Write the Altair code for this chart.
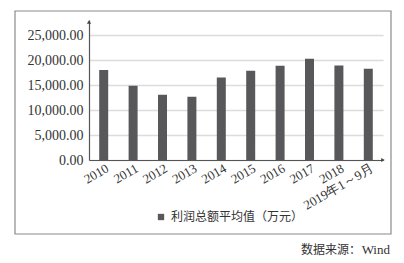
import altair as alt
import pandas as pd

years = ["2010", "2011", "2012", "2013", "2014", "2015", "2016", "2017", "2018", "2019年1～9月"]
values = [18000, 14850, 13050, 12650, 16500, 17850, 18850, 20250, 18900, 18250]
series_name = "利润总额平均值（万元）"
y_ticks = [0, 5000, 10000, 15000, 20000, 25000]
source_prefix = "数据来源："
source_name = "Wind"

df = pd.DataFrame({"year": years, "value": values, "series": [series_name] * len(years)})

W, H = 294, 140
PL, PT = 89, 20
SERIF = "Liberation Serif, Times New Roman, serif"

bars = alt.Chart(df).mark_bar(size=9).encode(
    x=alt.X("year:N", sort=years, title=None,
            scale=alt.Scale(paddingInner=0.69, paddingOuter=0.345),
            axis=alt.Axis(labelAngle=-30, labelAlign="right", labelBaseline="middle",
                          labelFont=SERIF, labelFontSize=13, labelColor="#333333",
                          labelPadding=7, ticks=False, domainColor="#555555", domainWidth=1.2,
                          labelOverlap=False, labelOffset=4)),
    y=alt.Y("value:Q", title=None, scale=alt.Scale(domain=[0, 28000], nice=False),
            axis=alt.Axis(values=y_ticks, format=",.2f", labelFont=SERIF,
                          labelFontSize=14, labelColor="#333333", ticks=False, labelPadding=6,
                          domainColor="#555555", domainWidth=1.2, gridColor="#dcdcdc",
                          gridWidth=1.5)),
    color=alt.Color("series:N", scale=alt.Scale(domain=[series_name], range=["#58585a"]),
                    legend=alt.Legend(title=None, orient="none", legendX=66, legendY=191,
                                      symbolType="square", symbolSize=40,
                                      labelFont="Noto Sans CJK SC", labelFontSize=12,
                                      labelColor="#333333")),
)

one = alt.Data(values=[{"a": 1}])

border = alt.Chart(one).mark_rect(fill=None, stroke="#8a8a8a", strokeWidth=1.2).encode(
    x=alt.value(15 - PL), x2=alt.value(391 - PL), y=alt.value(11 - PT), y2=alt.value(234 - PT)
)

arrow_y = alt.Chart(one).mark_point(shape="triangle-up", filled=True, color="#444444", size=18, opacity=1).encode(
    x=alt.value(0), y=alt.value(2)
)
arrow_x = alt.Chart(one).mark_point(shape="triangle-right", filled=True, color="#444444", size=18, opacity=1).encode(
    x=alt.value(W), y=alt.value(H)
)

source_a = alt.Chart(one).mark_text(align="right", baseline="middle", font="Noto Sans CJK SC",
                                    fontSize=12, color="#333333").encode(
    x=alt.value(361 - PL), y=alt.value(250 - PT), text=alt.value(source_prefix)
)
source_b = alt.Chart(one).mark_text(align="right", baseline="middle", font=SERIF,
                                    fontSize=13, color="#333333").encode(
    x=alt.value(390 - PL), y=alt.value(250 - PT), text=alt.value(source_name)
)

chart = alt.layer(bars, border, arrow_y, arrow_x, source_a, source_b).properties(
    width=W, height=H,
    autosize=alt.AutoSizeParams(type="none"),
    padding={"left": PL, "top": PT, "right": 404 - PL - W, "bottom": 263 - PT - H},
    background="white",
).configure_view(stroke=None)

chart.save("out.html", embed_options={"renderer": "svg", "actions": False})
